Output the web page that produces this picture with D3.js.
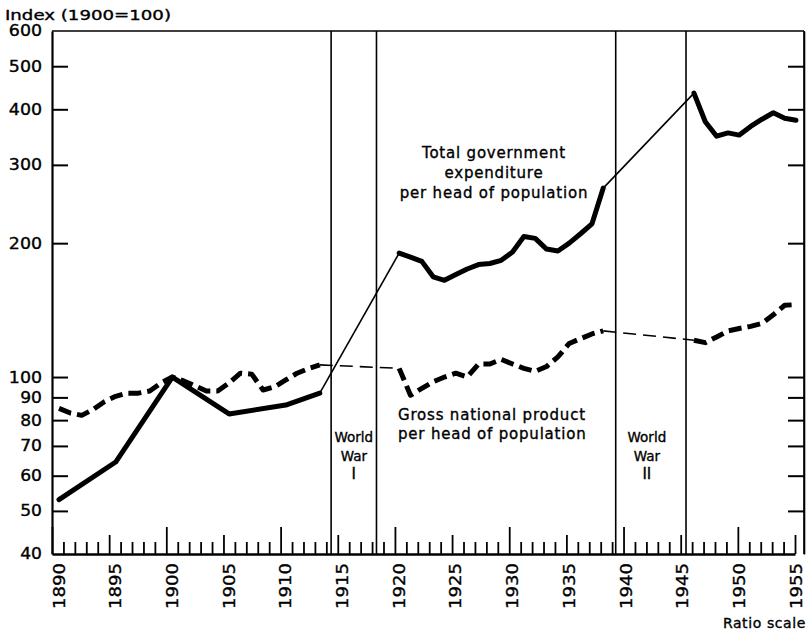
<!DOCTYPE html>
<html><head><meta charset="utf-8">
<script src="https://cdn.jsdelivr.net/npm/d3@7"></script>
<style>
body{margin:0;background:#fff;}
svg{display:block;}
text{font-family:"DejaVu Sans",sans-serif;fill:#000;stroke:#000;stroke-width:0.35px;}
</style></head><body>
<svg id="chart" width="808" height="631"></svg>
<script>
// ---------------- data ----------------
const yTickValues = [40, 50, 60, 70, 80, 90, 100, 200, 300, 400, 500, 600];
const xLabelYears = [1890, 1895, 1900, 1905, 1910, 1915, 1920, 1925, 1930, 1935, 1940, 1945, 1950, 1955];

const expYears = [1890, 1895, 1900, 1905, 1910, 1913,
  1920, 1921, 1922, 1923, 1924, 1925, 1926, 1927, 1928, 1929, 1930, 1931, 1932, 1933, 1934, 1935, 1936, 1937, 1938,
  1946, 1947, 1948, 1949, 1950, 1951, 1952, 1953, 1954, 1955];
const expValues = [53, 64.4, 100, 82.6, 86.5, 92,
  190, 186, 182, 168, 165, 170, 175, 179, 180, 183, 191, 207, 205, 194, 192, 200, 210, 221, 266,
  435, 375, 348, 354, 350, 366, 380, 393, 382, 378];

const gnpYears = [1890, 1891, 1892, 1893, 1894, 1895, 1896, 1897, 1898, 1899, 1900, 1901, 1902, 1903, 1904, 1905, 1906, 1907, 1908, 1909, 1910, 1911, 1912, 1913,
  1920, 1921, 1922, 1923, 1924, 1925, 1926, 1927, 1928, 1929, 1930, 1931, 1932, 1933, 1934, 1935, 1936, 1937, 1938,
  1946, 1947, 1948, 1949, 1950, 1951, 1952, 1953, 1954, 1955];
const gnpValues = [85, 83, 82, 84.5, 88, 90.5, 92, 92, 93, 97, 100, 98, 95.5, 93, 93, 97, 102, 101.5, 93.5, 95, 98.5, 102, 104.5, 106.5,
  104.6, 91, 94.3, 97.6, 100, 102, 100, 107, 107, 109.6, 107, 104.6, 103, 105.6, 111, 119, 122, 125, 127,
  121, 119.5, 123, 127, 128.6, 130, 132, 138, 145, 145.5];

const peacePeriods = [[1890, 1913], [1920, 1938], [1946, 1955]];
const warBoundaries = [1914, 1918, 1939.1, 1945.3];
const warLabels = [["World", "War", "I"], ["World", "War", "II"]];
const expLabel = ["Total government", "expenditure", "per head of population"];
const gnpLabel = ["Gross national product", "per head of population"];

// ---------------- layout ----------------
const svg = d3.select("#chart");
const L = 52, R = 804, T = 31, B = 554;

const y = d3.scaleLog().domain([40, 600]).range([B, T]);
const xTick = d3.scaleLinear().domain([1890, 1955]).range([L, 795]);
const x = d3.scaleLinear().domain([1890, 1955]).range([59, 796]);

// frame
svg.append("line").attr("x1", L).attr("x2", R).attr("y1", T).attr("y2", T).attr("stroke", "#000").attr("stroke-width", 1.6);
svg.append("line").attr("x1", R).attr("x2", R).attr("y1", T).attr("y2", B).attr("stroke", "#000").attr("stroke-width", 1.6);

// left axis
const yAxis = d3.axisLeft(y).tickValues(yTickValues).tickSize(-16).tickSizeOuter(0).tickPadding(10)
  .tickFormat(d3.format("d"));
const gy = svg.append("g").attr("transform", `translate(${L},0)`).call(yAxis);
gy.select(".domain").attr("stroke", "#000").attr("stroke-width", 2.2);
gy.selectAll(".tick line").attr("stroke", "#000").attr("stroke-width", 2)
  .attr("display", d => (d === 40 || d === 600) ? "none" : null);
gy.selectAll(".tick text").attr("font-size", 15.5).attr("fill", "#000")
  .attr("font-family", "DejaVu Sans")
  .attr("textLength", d => String(d).length * 11.4 - 1).attr("lengthAdjust", "spacingAndGlyphs");

// right axis
const gyr = svg.append("g").attr("transform", `translate(${R},0)`)
  .call(d3.axisRight(y).tickValues(yTickValues.filter(v => v > 40 && v < 600)).tickSize(-16).tickSizeOuter(0).tickFormat(""));
gyr.select(".domain").attr("stroke", "#000").attr("stroke-width", 1.6);
gyr.selectAll(".tick line").attr("stroke", "#000").attr("stroke-width", 2);

// bottom axis (ticks pointing up)
const allYears = d3.range(1890, 1956);
const gx = svg.append("g").attr("transform", `translate(0,${B})`)
  .call(d3.axisBottom(xTick).tickValues(allYears).tickSize(-12).tickSizeOuter(0).tickFormat(""));
gx.select(".domain").attr("stroke", "#000").attr("stroke-width", 2.6);
gx.selectAll(".tick line").attr("stroke", "#000").attr("stroke-width", 1.8)
  .attr("y2", d => d % 10 === 0 ? -27 : (d % 5 === 0 ? -19 : -12));

// x labels (rotated)
svg.append("g").selectAll("text").data(xLabelYears).join("text")
  .attr("transform", d => `translate(${x(d)},563) rotate(-90)`)
  .attr("text-anchor", "end").attr("dy", "0.36em")
  .attr("font-size", 15.5)
  .attr("textLength", 46).attr("lengthAdjust", "spacingAndGlyphs")
  .text(d => d);

// war boundary lines
svg.append("g").selectAll("line").data(warBoundaries).join("line")
  .attr("x1", d => x(d)).attr("x2", d => x(d)).attr("y1", T).attr("y2", B)
  .attr("stroke", "#000").attr("stroke-width", 1.6);

// series
function buildSeries(years, values) {
  return years.map((yr, i) => ({ year: yr, value: values[i] }));
}
const line = d3.line().x(d => x(d.year)).y(d => y(d.value));

function drawSeries(data, dashThick, dashThin) {
  const g = svg.append("g");
  const runs = peacePeriods.map(([a, b]) => data.filter(d => d.year >= a && d.year <= b));
  runs.forEach(run => {
    g.append("path").datum(run).attr("d", line)
      .attr("fill", "none").attr("stroke", "#000").attr("stroke-width", 5)
      .attr("stroke-linejoin", "round").attr("stroke-linecap", dashThick ? "butt" : "round")
      .attr("stroke-dasharray", dashThick);
  });
  for (let i = 0; i < runs.length - 1; i++) {
    const seg = [runs[i][runs[i].length - 1], runs[i + 1][0]];
    g.append("path").datum(seg).attr("d", line)
      .attr("fill", "none").attr("stroke", "#000").attr("stroke-width", 1.6)
      .attr("stroke-dasharray", dashThin);
  }
}
drawSeries(buildSeries(expYears, expValues), null, null);
drawSeries(buildSeries(gnpYears, gnpValues), "13,6", "13,7");

// annotations
svg.append("text").attr("x", 5).attr("y", 20).attr("font-size", 14)
  .attr("textLength", 166).attr("lengthAdjust", "spacingAndGlyphs")
  .text("Index (1900=100)");

svg.append("g").selectAll("text").data(expLabel).join("text")
  .attr("x", 494).attr("y", (d, i) => 158 + i * 20).attr("text-anchor", "middle")
  .attr("font-size", 15).attr("letter-spacing", 0.8)
  .text(d => d);

svg.append("g").selectAll("text").data(gnpLabel).join("text")
  .attr("x", 398).attr("y", (d, i) => 420 + i * 19)
  .attr("font-size", 15).attr("letter-spacing", 0.8)
  .text(d => d);

const warCenters = [[1914, 1918], [1939.1, 1945.3]];
warLabels.forEach((lines, k) => {
  const cx = (x(warCenters[k][0]) + x(warCenters[k][1])) / 2 - (k === 1 ? 4 : 0);
  svg.append("g").selectAll("text").data(lines).join("text")
    .attr("x", cx).attr("y", (d, i) => 442 + i * 18.5).attr("text-anchor", "middle")
    .attr("font-size", (d, i) => i === 2 ? 15 : 13.5)
    .attr("font-family", (d, i) => i === 2 ? "DejaVu Serif" : "DejaVu Sans")
    .text(d => d);
});

svg.append("text").attr("x", 806).attr("y", 628).attr("text-anchor", "end")
  .attr("font-size", 14).attr("letter-spacing", 0.6)
  .text("Ratio scale");
</script>
</body></html>
